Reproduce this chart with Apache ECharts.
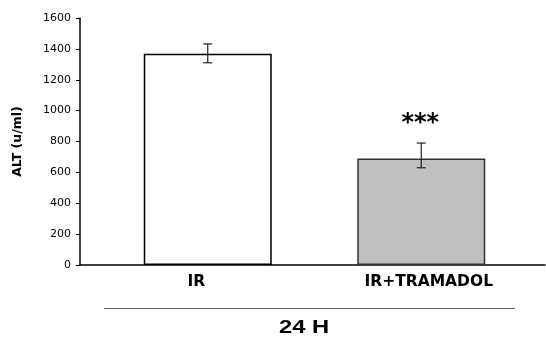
<!DOCTYPE html>
<html>
<head>
<meta charset="utf-8">
<script src="https://cdn.jsdelivr.net/npm/echarts@6/dist/echarts.min.js"></script>
<style>
html,body{margin:0;padding:0;background:#fff;}
#chart{width:546px;height:338px;}
</style>
</head>
<body>
<div id="chart"></div>
<script>
// ---- data ----
var categories = ['IR', 'IR+TRAMADOL'];
var altMean = [1368, 690];
var errUpper = [1432, 790];
var errLower = [1310, 630];
var sigLabels = ['', '***'];
var yTicks = [0, 200, 400, 600, 800, 1000, 1200, 1400, 1600];
var groupLabel = '24 H';
var yTitle = 'ALT (u/ml)';

var barColors = ['#ffffff', '#c0c0c0'];
var barBorders = ['#000000', '#333333'];

var chart = echarts.init(document.getElementById('chart'), null, {renderer: 'canvas'});

var errData = categories.map(function (c, i) { return [i, errLower[i], errUpper[i], sigLabels[i]]; });

var option = {
  animation: false,
  backgroundColor: '#ffffff',
  grid: [
    {left: 80, right: 1, top: 18, bottom: 73},
    {left: 101, right: 18, top: 18, bottom: 73}
  ],
  xAxis: [
    {
      type: 'category', gridIndex: 0, data: categories,
      axisLine: {lineStyle: {color: '#000', width: 1.5}},
      axisTick: {show: false},
      axisLabel: {color: '#000', fontFamily: 'DejaVu Sans', fontWeight: 'bold', fontSize: 15.5, margin: 9}
    },
    {
      type: 'category', gridIndex: 1, data: categories,
      show: false
    }
  ],
  yAxis: [
    {
      type: 'value', gridIndex: 0, min: yTicks[0], max: yTicks[yTicks.length - 1], interval: 200,
      axisLine: {show: true, lineStyle: {color: '#000', width: 1.5}},
      axisTick: {show: true, length: 4, lineStyle: {color: '#000'}},
      splitLine: {show: false},
      axisLabel: {color: '#000', fontFamily: 'DejaVu Sans', fontSize: 11, margin: 9,
        formatter: function (v) { return String(v); }},
      name: yTitle, nameLocation: 'middle', nameGap: 56, nameRotate: 90,
      nameTextStyle: {color: '#000', fontFamily: 'DejaVu Sans', fontWeight: 'bold', fontSize: 12.5}
    },
    {
      type: 'value', gridIndex: 1, min: yTicks[0], max: yTicks[yTicks.length - 1], interval: 200,
      show: false
    }
  ],
  series: [
    {
      type: 'bar', xAxisIndex: 1, yAxisIndex: 1,
      barWidth: 128,
      data: altMean.map(function (v, i) {
        return {value: v, itemStyle: {color: barColors[i], borderColor: barBorders[i], borderWidth: 1.5}};
      }),
      z: 2
    },
    {
      type: 'custom', xAxisIndex: 1, yAxisIndex: 1,
      data: errData,
      z: 3,
      renderItem: function (params, api) {
        var x = api.value(0);
        var lo = api.coord([x, api.value(1)]);
        var hi = api.coord([x, api.value(2)]);
        var cap = 4.5;
        var style = {stroke: '#222', lineWidth: 1.2};
        var children = [
          {type: 'line', shape: {x1: hi[0], y1: hi[1], x2: lo[0], y2: lo[1]}, style: style},
          {type: 'line', shape: {x1: hi[0] - cap, y1: hi[1], x2: hi[0] + cap, y2: hi[1]}, style: style},
          {type: 'line', shape: {x1: lo[0] - cap, y1: lo[1], x2: lo[0] + cap, y2: lo[1]}, style: style}
        ];
        var lbl = api.value(3);
        if (lbl) {
          children.push({
            type: 'text',
            style: {text: lbl, x: hi[0] - 1, y: hi[1] - 19, align: 'center', verticalAlign: 'middle',
              fill: '#000', font: 'bold 24px "DejaVu Sans"'}
          });
        }
        return {type: 'group', children: children};
      }
    }
  ],
  graphic: [
    {type: 'line', shape: {x1: 104, y1: 308.5, x2: 515, y2: 308.5}, style: {stroke: '#666', lineWidth: 1.2}},
    {type: 'text', x: 304, y: 328, scaleX: 1.25, originX: 0, originY: 0,
      style: {text: groupLabel, x: 0, y: 0, align: 'center', verticalAlign: 'middle', fill: '#000',
        font: 'bold 19px "Liberation Sans"'}}
  ]
};
chart.setOption(option);
</script>
</body>
</html>
